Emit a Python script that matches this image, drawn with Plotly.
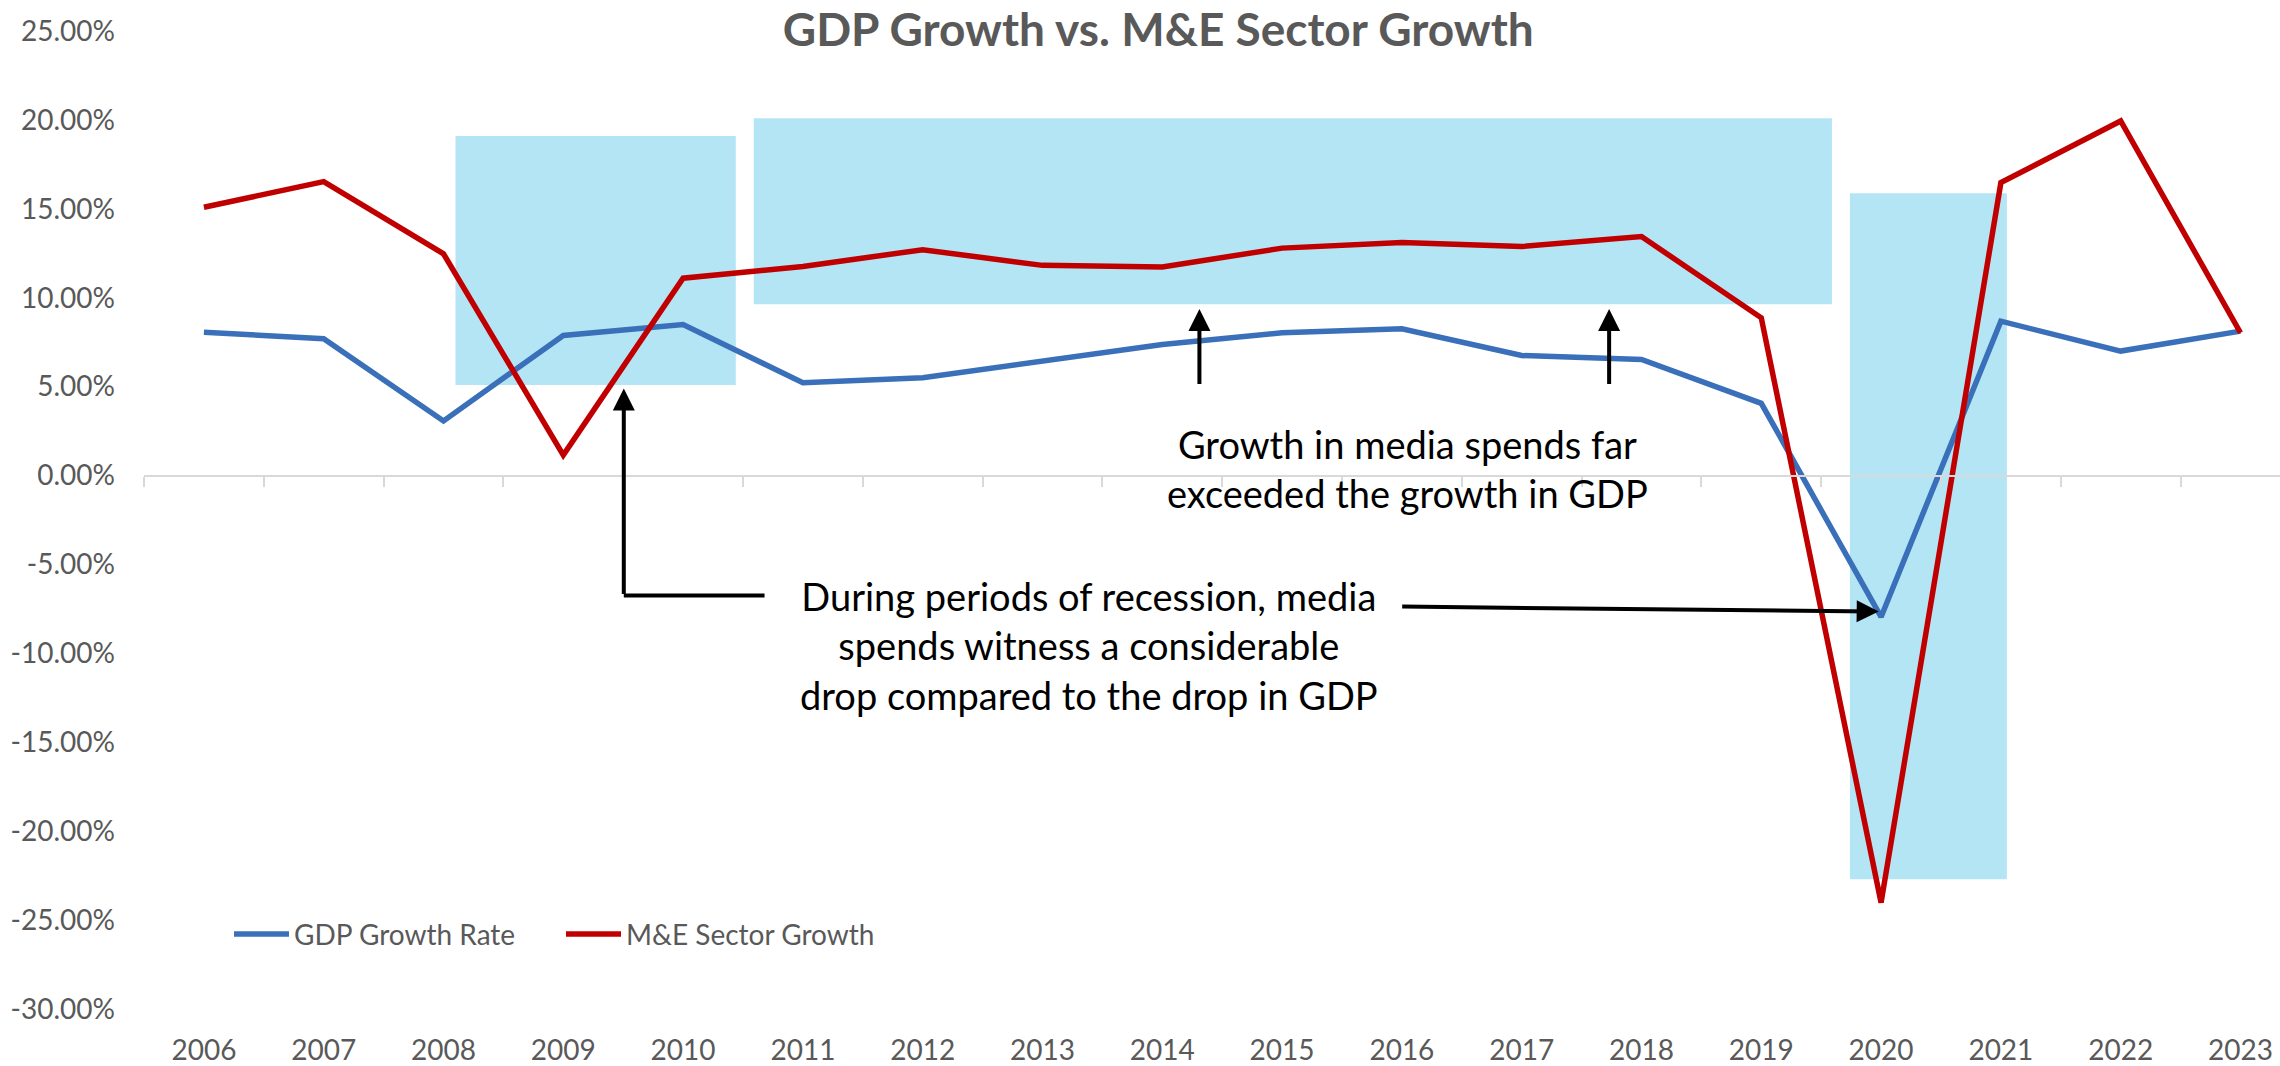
import plotly.graph_objects as go

# ---------------- data ----------------
years = [str(y) for y in range(2006, 2024)]
gdp_growth = [8.06, 7.69, 3.07, 7.88, 8.49, 5.22, 5.50, 6.44, 7.37, 8.03,
              8.25, 6.75, 6.53, 4.06, -7.95, 8.68, 7.00, 8.12]
me_growth = [15.09, 16.53, 12.47, 1.15, 11.10, 11.76, 12.70, 11.82, 11.73, 12.79,
             13.11, 12.88, 13.44, 8.87, -24.02, 16.47, 19.94, 8.03]
y_ticks = [25, 20, 15, 10, 5, 0, -5, -10, -15, -20, -25, -30]
y_ticktext = [f"{v:.2f}%" for v in y_ticks]

series_names = ["GDP Growth Rate", "M&E Sector Growth"]
series_colors = ["#3A6FB9", "#C00000"]

# highlight boxes (category-index units, percent units)
boxes = [
    dict(x0=2.10, x1=4.44, y0=5.09, y1=19.09),
    dict(x0=4.59, x1=13.59, y0=9.63, y1=20.10),
    dict(x0=13.74, x1=15.05, y0=-22.70, y1=15.87),
]

y_min, y_max = -30, 25
x_range = [-0.5, 17.33]

FONT = "Lato, 'Open Sans', sans-serif"
GRAY = "#595959"

fig = go.Figure()

for name, vals, col in zip(series_names, [gdp_growth, me_growth], series_colors):
    fig.add_trace(go.Scatter(
        x=years, y=vals, mode="lines", name=name,
        line=dict(color=col, width=5.5),
    ))

# invisible trace to drive the crossing category axis
fig.add_trace(go.Scatter(x=years, y=[None] * len(years), xaxis="x2",
                         showlegend=False, hoverinfo="skip"))

shapes = []
for b in boxes:
    shapes.append(dict(type="rect", xref="x", yref="y", layer="below",
                       x0=b["x0"], x1=b["x1"], y0=b["y0"], y1=b["y1"],
                       fillcolor="#B4E5F5", line=dict(width=0)))

# elbow connector horizontal segment
elbow_x0, elbow_x1, elbow_y = 3.505, 4.68, -6.75
shapes.append(dict(type="line", xref="x", yref="y", layer="above",
                   x0=elbow_x0, x1=elbow_x1, y0=elbow_y, y1=elbow_y,
                   line=dict(color="black", width=4)))

annotations = []


def arrow(x, y, ax, ay):
    annotations.append(dict(
        x=x, y=y, ax=ax, ay=ay, xref="x", yref="y", axref="x", ayref="y",
        text="", showarrow=True, arrowhead=2, arrowsize=1.1, arrowwidth=4,
        arrowcolor="black", standoff=0, startstandoff=0))


arrow(elbow_x0, 4.89, elbow_x0, elbow_y)
arrow(13.98, -7.65, 9.99, -7.37)
arrow(8.31, 9.37, 8.31, 5.07)
arrow(11.73, 9.37, 11.73, 5.07)

annotations.append(dict(
    x=10.05, y=0.37, xref="x", yref="y", showarrow=False,
    text="Growth in media spends far<br>exceeded the growth in GDP",
    font=dict(family=FONT, size=38, color="black"), align="center",
    xanchor="center", yanchor="middle"))

annotations.append(dict(
    x=7.385, y=-9.54, xref="x", yref="y", showarrow=False,
    text="During periods of recession, media<br>spends witness a considerable<br>drop compared to the drop in GDP",
    font=dict(family=FONT, size=38, color="black"), align="center",
    xanchor="center", yanchor="middle"))

fig.update_layout(
    width=2280, height=1066,
    margin=dict(l=144, r=0, t=31, b=54, pad=0),
    paper_bgcolor="white", plot_bgcolor="white",
    title=dict(text="<b>GDP Growth vs. M&E Sector Growth</b>",
               x=0.508, xanchor="center", y=0.972, yanchor="middle",
               font=dict(family=FONT, size=46, color=GRAY)),
    font=dict(family=FONT, size=28, color=GRAY),
    xaxis=dict(type="category", categoryarray=years, categoryorder="array",
               range=x_range, showline=False, showgrid=False, zeroline=False,
               ticks="", tickfont=dict(family=FONT, size=28, color=GRAY),
               ticklabelstandoff=22),
    xaxis2=dict(type="category", categoryarray=years, categoryorder="array",
                overlaying="x", anchor="free",
                position=(0 - y_min) / (y_max - y_min),
                range=x_range, showline=True, linecolor="#D9D9D9", linewidth=2,
                ticks="outside", tickson="boundaries", ticklen=10,
                tickcolor="#D9D9D9", tickwidth=2, showticklabels=False,
                showgrid=False, zeroline=False),
    yaxis=dict(range=[y_min, y_max], tickvals=y_ticks, ticktext=y_ticktext,
               showgrid=False, zeroline=False, showline=False, ticks="",
               tickfont=dict(family=FONT, size=28, color=GRAY),
               ticklabelstandoff=28),
    legend=dict(orientation="h", x=(229 - 144) / 2136, xanchor="left",
                y=(1012 - 937) / 981, yanchor="middle",
                itemwidth=55, entrywidth=262, entrywidthmode="pixels",
                font=dict(family=FONT, size=28, color=GRAY),
                bgcolor="rgba(0,0,0,0)"),
    shapes=shapes,
    annotations=annotations,
    showlegend=True,
)

fig.write_html(
    "out.html",
    config={"displayModeBar": False},
    post_script="document.body.style.margin='0';document.body.style.overflow='hidden';",
)
